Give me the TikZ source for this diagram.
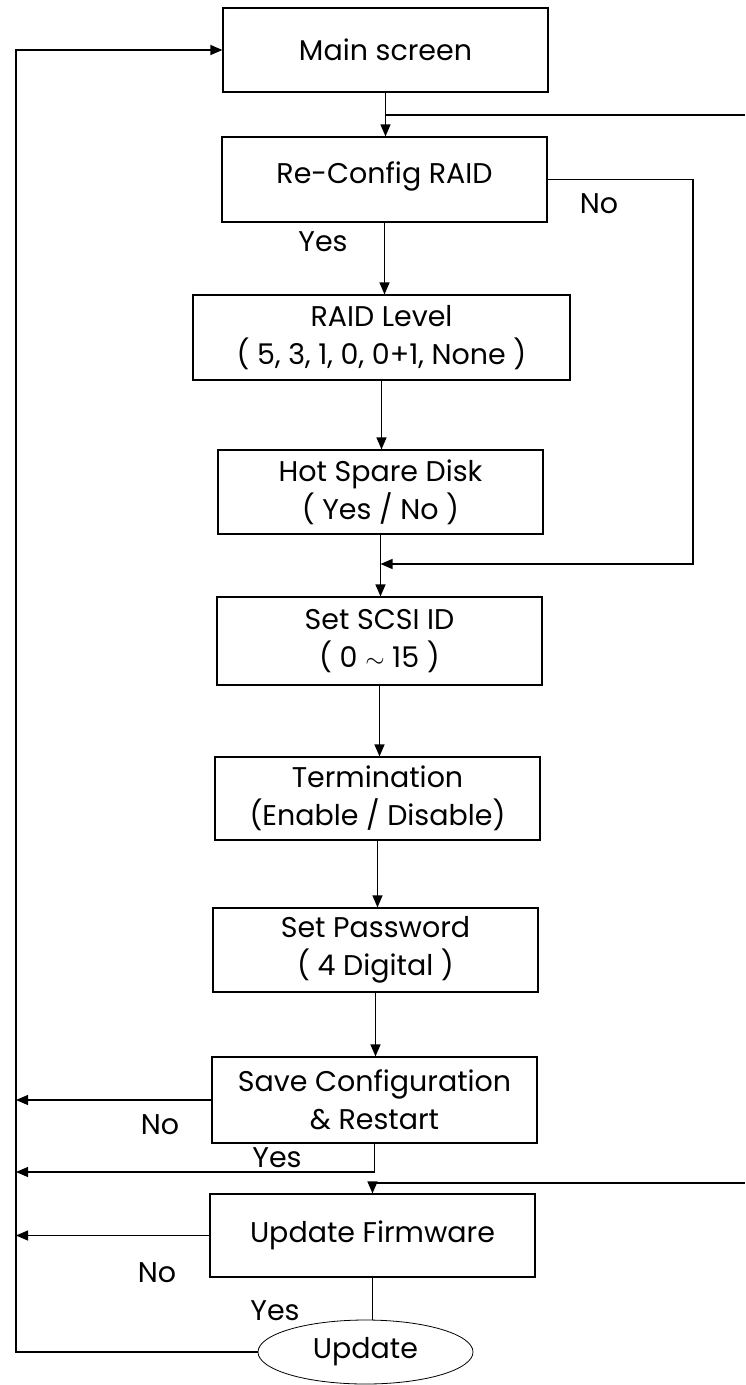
\documentclass[tikz,border=0pt]{standalone}
\usepackage{fontspec}
\setmainfont{Poppins}
\usetikzlibrary{arrows.meta,shapes.geometric}
\begin{document}
\begin{tikzpicture}[x=1pt,y=-1pt,
  conn/.style={line width=1.2pt},
  arr/.style={conn,-{Triangle[length=12pt,width=10pt]}},
  box/.style={draw,conn,rectangle,minimum width=325pt,minimum height=84pt,align=center,inner sep=0pt,font=\fontsize{28.5}{38}\selectfont},
  lbl/.style={inner sep=0pt,font=\fontsize{28.5}{30}\selectfont}]
\useasboundingbox (0,0) rectangle (745,1385);
\fill[white] (0,0) rectangle (745,1385);
% boxes
\node[box] (main) at (385.5,50) {Main screen};
\node[box,minimum height=85pt] (rcfg) at (384.5,179.5) {\raisebox{13pt}{Re-Config RAID}};
\node[box,minimum width=377pt,minimum height=85pt] (lvl) at (381.5,337.5) {RAID Level\\( 5, 3, 1, 0, 0+1, None )};
\node[box] (hot) at (380.5,492) {Hot Spare Disk\\( Yes / No )};
\node[box,minimum height=88pt] (scsi) at (379.5,641) {Set SCSI ID\\( 0 $\sim$ 15 )};
\node[box,minimum height=83pt] (term) at (377.5,798.5) {Termination\\(Enable / Disable)};
\node[box] (pass) at (375.5,950) {Set Password\\( 4 Digital )};
\node[box,minimum height=86pt] (save) at (374.5,1100) {Save Configuration\\\& Restart};
\node[box,minimum height=83pt] (upd) at (372.5,1235.5) {Update Firmware};
\node[draw,ellipse,line width=0.8pt,minimum width=215pt,minimum height=64pt,inner sep=0pt,font=\fontsize{28.5}{30}\selectfont] (ell) at (365.5,1352) {Update};
% labels
\node[lbl] (no1) at (599,204) {No};
\node[lbl] (yes1) at (323,242) {Yes};
\node[lbl] (no2) at (160,1125) {No};
\node[lbl] (yes2) at (277,1158) {Yes};
\node[lbl] (no3) at (157,1273) {No};
\node[lbl] (yes3) at (275,1311) {Yes};
% helper coordinates
\coordinate (tr) at (745,115);
\coordinate (br) at (745,1183);
\coordinate (ncorner) at (693,564);
\coordinate (nojoin) at (380.5,564);
\coordinate (lt) at (16,50);
\coordinate (lb) at (16,1352);
\coordinate (sy) at (374.5,1172);
% main chain
\draw[conn] (tr) -- (main.south |- tr);
\draw[arr] (main.south) -- (main.south |- rcfg.north);
\draw[arr] (rcfg.south) -- (rcfg.south |- lvl.north);
\draw[arr] (lvl.south) -- (lvl.south |- hot.north);
\draw[arr] (hot.south) -- (hot.south |- scsi.north);
\draw[arr] (rcfg.east) -| (ncorner) -- (nojoin);
\draw[arr] (scsi.south) -- (scsi.south |- term.north);
\draw[arr] (term.south) -- (term.south |- pass.north);
\draw[arr] (pass.south) -- (pass.south |- save.north);
% save branches
\draw[arr] (save.west) -- (save.west -| lt);
\draw[arr] (save.south) -- (sy) -- (sy -| lt);
% update firmware
\draw[arr] (br) -- (br -| upd.north) -- (upd.north);
\draw[arr] (upd.west) -- (upd.west -| lt);
\draw[conn] (upd.south) -- (upd.south |- ell.north);
% return loop
\draw[arr] (ell.west) -- (lb) -- (lt) -- (main.west);
\end{tikzpicture}
\end{document}
